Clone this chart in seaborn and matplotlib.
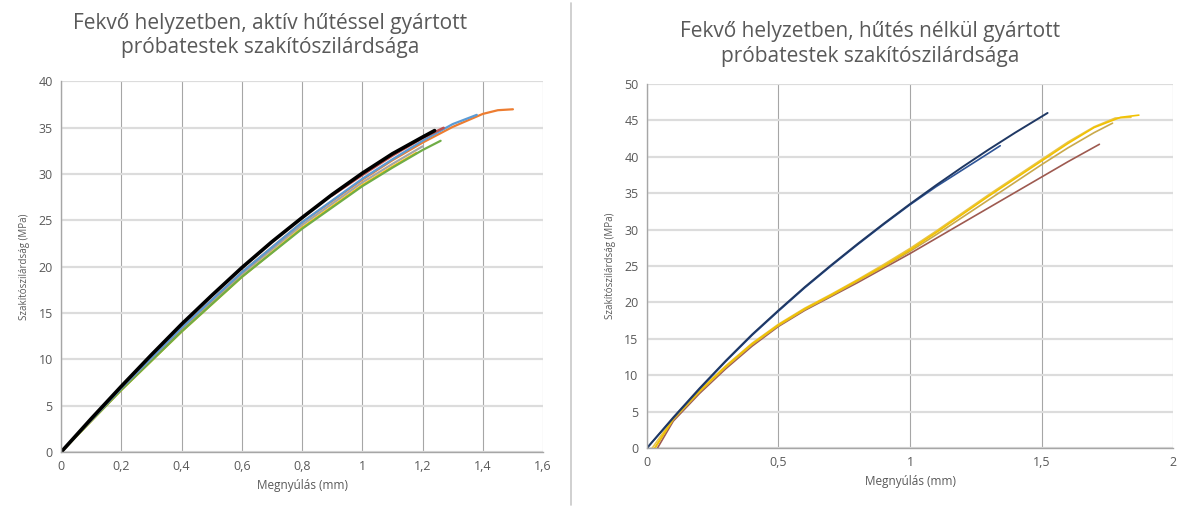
import matplotlib
matplotlib.use('Agg')
import pandas as pd
import seaborn as sns
import matplotlib.pyplot as plt
from matplotlib.lines import Line2D
from matplotlib.ticker import FuncFormatter, MultipleLocator

# Left chart: active cooling, elongation (mm) vs tensile strength (MPa)
left_x_black = [0, 0.1, 0.2, 0.3, 0.4, 0.5, 0.6, 0.7, 0.8, 0.9, 1.0, 1.1, 1.2, 1.24]
left_y_black = [0, 3.6, 7.1, 10.5, 13.8, 16.9, 19.9, 22.7, 25.3, 27.8, 30.1, 32.2, 34.0, 34.7]
left_x_red = [0.9, 1.0, 1.1, 1.2, 1.27]
left_y_red = [27.7, 29.9, 32.0, 33.9, 35.0]
left_x_orange = [0, 0.2, 0.4, 0.6, 0.8, 1.0, 1.1, 1.2, 1.3, 1.4, 1.45, 1.5]
left_y_orange = [0, 6.9, 13.4, 19.4, 24.8, 29.4, 31.5, 33.4, 35.1, 36.5, 36.9, 37.0]
left_x_blue = [0, 0.2, 0.4, 0.6, 0.8, 1.0, 1.1, 1.2, 1.3, 1.38]
left_y_blue = [0, 6.9, 13.4, 19.4, 24.8, 29.5, 31.6, 33.6, 35.4, 36.4]
left_x_gray = [0, 0.2, 0.4, 0.6, 0.8, 1.0, 1.1, 1.2]
left_y_gray = [0, 6.8, 13.2, 19.2, 24.5, 29.1, 31.1, 33.0]
left_x_yellow = [0, 0.2, 0.4, 0.6, 0.8, 1.0, 1.1, 1.18]
left_y_yellow = [0, 6.7, 13.0, 18.9, 24.2, 28.8, 30.8, 32.3]
left_x_green = [0, 0.2, 0.4, 0.6, 0.8, 1.0, 1.1, 1.2, 1.26]
left_y_green = [0, 6.7, 13.0, 18.9, 24.1, 28.7, 30.7, 32.6, 33.6]

# Right chart: no cooling
right_x_navy1 = [0, 0.1, 0.2, 0.3, 0.4, 0.5, 0.6, 0.7, 0.8, 0.9, 1.0, 1.1, 1.2, 1.3, 1.4, 1.523]
right_y_navy1 = [0, 4.2, 8.2, 12.0, 15.6, 18.9, 22.1, 25.1, 28.0, 30.8, 33.5, 36.1, 38.6, 41.0, 43.3, 46.0]
right_x_navy2 = [0, 0.1, 0.2, 0.3, 0.4, 0.5, 0.6, 0.7, 0.8, 0.9, 1.0, 1.1, 1.2, 1.3, 1.343]
right_y_navy2 = [0, 4.1, 8.1, 11.9, 15.5, 18.8, 22.0, 25.0, 27.9, 30.7, 33.4, 35.9, 38.2, 40.5, 41.5]
right_x_yellow1 = [0.03, 0.1, 0.2, 0.3, 0.4, 0.5, 0.6, 0.7, 0.8, 0.9, 1.0, 1.1, 1.2, 1.3, 1.4, 1.5, 1.6, 1.7, 1.8, 1.87]
right_y_yellow1 = [0, 4.0, 7.8, 11.2, 14.3, 16.9, 19.1, 21.0, 23.0, 25.0, 27.2, 29.6, 32.1, 34.6, 37.0, 39.4, 41.8, 44.0, 45.4, 45.7]
right_x_yellow2 = [0.02, 0.1, 0.2, 0.3, 0.4, 0.5, 0.6, 0.7, 0.8, 0.9, 1.0, 1.1, 1.2, 1.3, 1.4, 1.5, 1.6, 1.7, 1.78, 1.84]
right_y_yellow2 = [0, 4.1, 7.9, 11.3, 14.4, 17.0, 19.2, 21.1, 23.1, 25.2, 27.4, 29.8, 32.3, 34.8, 37.2, 39.6, 42.0, 44.1, 45.3, 45.4]
right_x_tan = [0.03, 0.1, 0.2, 0.3, 0.4, 0.5, 0.6, 0.7, 0.8, 0.9, 1.0, 1.1, 1.2, 1.3, 1.4, 1.5, 1.6, 1.7, 1.77]
right_y_tan = [0, 3.9, 7.7, 11.1, 14.2, 16.8, 19.0, 20.9, 22.9, 24.9, 27.0, 29.3, 31.7, 34.1, 36.5, 38.9, 41.2, 43.3, 44.6]
right_x_brown = [0.04, 0.1, 0.2, 0.3, 0.4, 0.5, 0.6, 0.7, 0.8, 0.9, 1.0, 1.1, 1.2, 1.3, 1.4, 1.5, 1.6, 1.68, 1.72]
right_y_brown = [0, 3.7, 7.5, 10.9, 14.0, 16.7, 18.9, 20.8, 22.7, 24.7, 26.7, 28.8, 30.9, 33.0, 35.1, 37.2, 39.3, 40.9, 41.7]

left_title = 'Fekvő helyzetben, aktív hűtéssel gyártott\npróbatestek szakítószilárdsága'
right_title = 'Fekvő helyzetben, hűtés nélkül gyártott\npróbatestek szakítószilárdsága'
x_label = 'Megnyúlás (mm)'
y_label = 'Szakítószilárdság (MPa)'

sns.set_style('white')
plt.rcParams['font.family'] = ['Open Sans', 'DejaVu Sans']
text_col = '#595959'

fig = plt.figure(figsize=(11.78, 5.08), dpi=100)
ax1 = fig.add_axes([0.0518, 0.110, 0.4092, 0.7296])
ax2 = fig.add_axes([0.5492, 0.118, 0.4466, 0.717])


def comma(v, pos):
    s = ('%.1f' % v).rstrip('0').rstrip('.')
    return s.replace('.', ',')


def draw(ax, series, xmax, xstep, ymax):
    for xs, ys, col, lw in series:
        d = pd.DataFrame({'x': xs, 'y': ys})
        sns.lineplot(data=d, x='x', y='y', ax=ax, color=col, linewidth=lw,
                     sort=False, estimator=None)
    ax.set_xlim(0, xmax)
    ax.set_ylim(0, ymax)
    ax.xaxis.set_major_locator(MultipleLocator(xstep))
    ax.yaxis.set_major_locator(MultipleLocator(5))
    ax.xaxis.set_major_formatter(FuncFormatter(comma))
    ax.set_axisbelow(True)
    ax.grid(axis='x', color='#a6a6a6', linewidth=0.8)
    ax.grid(axis='y', color='#dcdcdc', linewidth=1.6)
    for s in ['top', 'right']:
        ax.spines[s].set_visible(False)
    for s in ['left', 'bottom']:
        ax.spines[s].set_color('#a6a6a6')
        ax.spines[s].set_linewidth(1.0)
    ax.tick_params(labelsize=9, colors=text_col, length=0, pad=6)
    ax.set_xlabel(x_label, fontsize=8.5, color=text_col, labelpad=4)
    ax.set_ylabel(y_label, fontsize=7, color=text_col, labelpad=6)


draw(ax1, [
    (left_x_gray, left_y_gray, '#a5a5a5', 1.6),
    (left_x_yellow, left_y_yellow, '#ffc000', 1.6),
    (left_x_green, left_y_green, '#70ad47', 1.6),
    (left_x_orange, left_y_orange, '#ed7d31', 1.6),
    (left_x_blue, left_y_blue, '#5b9bd5', 1.6),
    (left_x_red, left_y_red, '#c0504d', 1.8),
    (left_x_black, left_y_black, '#000000', 2.6),
], 1.6, 0.2, 40)

draw(ax2, [
    (right_x_brown, right_y_brown, '#9e5a50', 1.2),
    (right_x_tan, right_y_tan, '#c9a94b', 1.2),
    (right_x_yellow2, right_y_yellow2, '#e8c44a', 1.2),
    (right_x_yellow1, right_y_yellow1, '#f2c200', 1.2),
    (right_x_navy2, right_y_navy2, '#2f5597', 1.2),
    (right_x_navy1, right_y_navy1, '#1f3864', 1.4),
], 2, 0.5, 50)

fig.text(0.229, 0.975, left_title, ha='center', va='top', fontsize=15,
         color=text_col, linespacing=1.2)
fig.text(0.739, 0.958, right_title, ha='center', va='top', fontsize=15,
         color=text_col, linespacing=1.2)

fig.add_artist(Line2D([0.4847, 0.4847], [0.005, 0.995], color='#c8c8c8',
                      linewidth=1.2, transform=fig.transFigure))

fig.savefig('out.png', dpi=100, facecolor='white')
